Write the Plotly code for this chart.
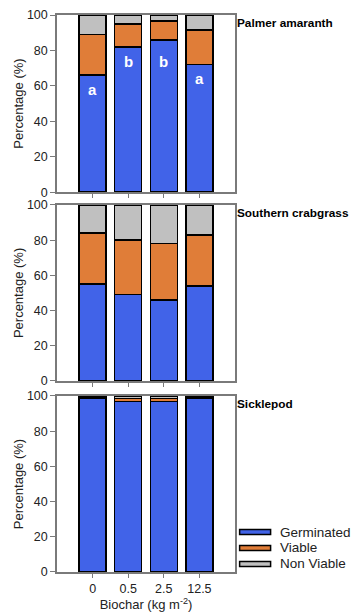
import plotly.graph_objects as go
from plotly.subplots import make_subplots

categories = ["0", "0.5", "2.5", "12.5"]
species = ["Palmer amaranth", "Southern crabgrass", "Sicklepod"]

palmer_germinated = [66, 82, 86, 72]
palmer_viable = [23, 13, 10.5, 19.5]
palmer_nonviable = [11, 5, 3.5, 8.5]
palmer_letters = ["a", "b", "b", "a"]

crabgrass_germinated = [55, 49, 46, 54]
crabgrass_viable = [29, 31, 32, 29]
crabgrass_nonviable = [16, 20, 22, 17]

sicklepod_germinated = [98.5, 97, 97, 98.5]
sicklepod_viable = [0.3, 1.5, 1.5, 0.3]
sicklepod_nonviable = [1.2, 1.5, 1.5, 1.2]

series_names = ["Germinated", "Viable", "Non Viable"]
colors = ["#4163E8", "#E07D38", "#C0C0C0"]

data = [
    (palmer_germinated, palmer_viable, palmer_nonviable),
    (crabgrass_germinated, crabgrass_viable, crabgrass_nonviable),
    (sicklepod_germinated, sicklepod_viable, sicklepod_nonviable),
]

FONT = "Liberation Sans, Arial, sans-serif"
fig = make_subplots(rows=3, cols=1, shared_xaxes=False)

for r, vals in enumerate(data, start=1):
    for i, (name, v) in enumerate(zip(series_names, vals)):
        fig.add_trace(go.Bar(
            x=categories, y=v, name=name,
            marker=dict(color=colors[i], line=dict(color="#000000", width=1.5)),
            width=0.76, showlegend=False,
        ), row=r, col=1)

# significance letters (palmer) placed inside the germinated segment
for idx, (g, l) in enumerate(zip(palmer_germinated, palmer_letters)):
    fig.add_annotation(x=idx, y=min(g, 82) - 8, text=f"<b>{l}</b>", showarrow=False,
                       xref="x", yref="y", yanchor="middle",
                       font=dict(color="white", size=15, family=FONT))

domains = [[0.682, 1.0], [0.343, 0.659], [0.0, 0.316]]
axcolor = "#7a7a7a"
for r in range(1, 4):
    fig.update_yaxes(range=[0, 100], tickvals=[0, 20, 40, 60, 80, 100],
                     domain=domains[r - 1], showline=True, linecolor=axcolor,
                     linewidth=1.5, mirror=True, ticks="outside", ticklen=5,
                     tickcolor=axcolor, showgrid=False, zeroline=False,
                     automargin=False,
                     title=dict(text="Percentage (%)", font=dict(size=13), standoff=0),
                     tickfont=dict(size=12.5), row=r, col=1)
    fig.update_xaxes(range=[-1, 4], showline=True, linecolor=axcolor,
                     linewidth=1.5, mirror=True, ticks="outside", ticklen=4,
                     tickcolor=axcolor, showgrid=False, zeroline=False,
                     automargin=False,
                     showticklabels=(r == 3), tickfont=dict(size=12.5),
                     row=r, col=1)
    fig.add_annotation(xref="paper", yref="paper", x=1.0,
                       y=domains[r - 1][1] + 0.002, text=f"<b>{species[r-1]}</b>",
                       showarrow=False, xanchor="left", yanchor="top",
                       font=dict(size=11.8, color="#000000", family=FONT))

fig.update_xaxes(title=dict(text="Biochar (kg m<sup>-2</sup>)", font=dict(size=13), standoff=4),
                 row=3, col=1)

# custom legend (wide swatches like the reference)
legend_rows = [0.0718, 0.0431, 0.0144]
for name, col, yy in zip(series_names, colors, legend_rows):
    fig.add_shape(type="rect", xref="paper", yref="paper",
                  x0=1.026, x1=1.200, y0=yy - 0.0045, y1=yy + 0.0045,
                  fillcolor=col, line=dict(color="#000000", width=1.5))
    fig.add_annotation(xref="paper", yref="paper", x=1.243, y=yy, text=name,
                       showarrow=False, xanchor="left", yanchor="middle",
                       font=dict(size=13.5, color="#222222", family=FONT))

fig.update_layout(
    width=352, height=615,
    margin=dict(l=57, r=117, t=15, b=43),
    barmode="stack",
    plot_bgcolor="white", paper_bgcolor="white",
    font=dict(family=FONT, color="#222222", size=13),
    showlegend=False,
)

fig.write_html("out.html", config={"displayModeBar": False},
               post_script="document.body.style.margin='0';document.body.style.overflow='hidden';")
